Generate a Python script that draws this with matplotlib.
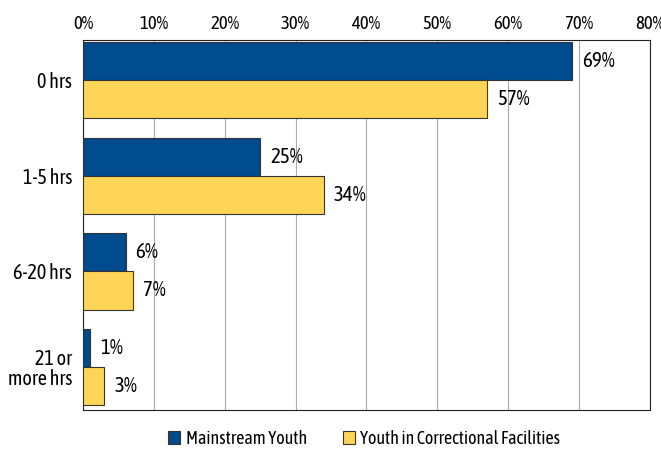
import matplotlib.pyplot as plt
import numpy as np

categories = ['0 hrs', '1-5 hrs', '6-20 hrs', '21 or\nmore hrs']
mainstream = [69, 25, 6, 1]
correctional = [57, 34, 7, 3]
series_names = ['Mainstream Youth', 'Youth in Correctional Facilities']

plt.rcParams['font.family'] = ['Asap Condensed', 'DejaVu Sans']

fig = plt.figure(figsize=(6.61, 4.55), dpi=100)
ax = fig.add_axes([0.1256, 0.099, 0.8574, 0.813])

y = np.arange(len(categories))
h = 0.4
ax.barh(y - h / 2, mainstream, height=h, color='#004b8d', edgecolor='#333333',
        linewidth=0.8, label=series_names[0], zorder=3)
ax.barh(y + h / 2, correctional, height=h, color='#ffd557', edgecolor='#333333',
        linewidth=0.8, label=series_names[1], zorder=3)

for yi, v in zip(y, mainstream):
    ax.text(v + 1.4, yi - h / 2, f'{v}%', va='center', ha='left', fontsize=15)
for yi, v in zip(y, correctional):
    ax.text(v + 1.4, yi + h / 2, f'{v}%', va='center', ha='left', fontsize=15)

ax.set_xlim(0, 80)
ax.set_ylim(3.45, -0.42)
ax.set_xticks(np.arange(0, 81, 10))
ax.set_xticklabels([f'{t}%' for t in range(0, 81, 10)])
ax.xaxis.tick_top()
ax.tick_params(axis='x', length=0, pad=5, labelsize=13.5)
ax.set_yticks(y)
ax.set_yticklabels(categories, fontsize=14.5, linespacing=1.0)
ax.tick_params(axis='y', length=0, pad=8)
ax.grid(axis='x', color='#aaaaaa', linewidth=0.8, zorder=0)
for s in ax.spines.values():
    s.set_color('#222222')
    s.set_linewidth(0.8)

fig.legend(loc='lower center', bbox_to_anchor=(0.551, -0.02), ncol=2,
           frameon=False, fontsize=13, handlelength=0.65, handleheight=0.65,
           handletextpad=0.3, columnspacing=2.0)

fig.savefig('out.png', dpi=100)
